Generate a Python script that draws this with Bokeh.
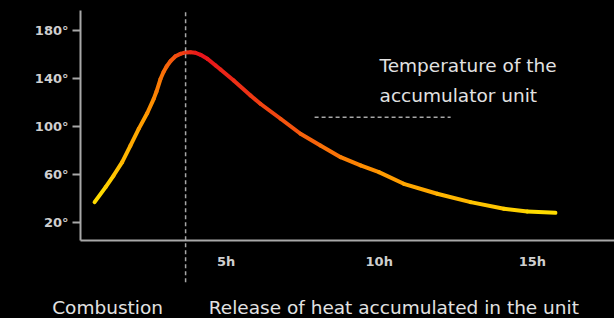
from bokeh.plotting import figure
from bokeh.models import FixedTicker, Label, ColumnDataSource
from bokeh.embed import file_html
from bokeh.resources import INLINE

# ---- data ----
hours = [0.71, 1.07, 1.33, 1.61, 1.88, 2.15, 2.43, 2.64, 2.73, 2.86, 2.96, 3.06,
         3.19, 3.35, 3.51, 3.68, 3.84, 4.00, 4.17, 4.39, 4.66, 4.82, 5.25, 5.80,
         6.12, 6.78, 7.43, 8.08, 8.74, 9.39, 9.99, 10.80, 11.89, 12.98, 14.07, 14.83, 15.75]
temps = [36.7, 49.2, 58.9, 70.0, 83.9, 97.8, 111.0, 122.8, 128.9, 139.3, 145.2, 149.8,
         154.3, 158.3, 160.3, 161.5, 161.7, 161.2, 159.5, 156.2, 150.6, 147.3, 138.1, 125.6,
         118.7, 106.2, 93.7, 83.9, 74.2, 67.3, 61.7, 52.0, 43.7, 36.7, 31.2, 28.9, 27.8]
y_ticks = [20, 60, 100, 140, 180]
y_tick_labels = ["20°", "60°", "100°", "140°", "180°"]
x_ticks = [5, 10, 15]
x_tick_labels = ["5h", "10h", "15h"]
phase_split = 3.68          # end of combustion (hours)
phase_names = ["Combustion", "Release of heat accumulated in the unit"]
series_label = ["Temperature of the", "accumulator unit"]

FONT = "DejaVu Sans"
AXIS_GRAY = "#a8a8a8"
TEXT_COL = "#e2e2e2"
TICK_COL = "#cfcfcf"

X0, X1 = 0.25, 17.678      # visible axis extents
Y0, Y1 = 4.75, 196.4

p = figure(width=614, height=318, x_range=(-2.361, 17.678), y_range=(-60.25, 204.75),
           output_backend="svg", toolbar_location=None,
           min_border=0, min_border_left=0, min_border_right=0,
           min_border_top=0, min_border_bottom=0)
p.background_fill_color = "black"
p.border_fill_color = "black"
p.outline_line_color = None
p.xgrid.visible = False
p.ygrid.visible = False

# axes, pinned inside the frame
p.xaxis.fixed_location = Y0
p.xaxis.bounds = (X0, X1)
p.yaxis.fixed_location = X0
p.yaxis.bounds = (Y0, Y1)
p.yaxis.ticker = FixedTicker(ticks=y_ticks)
p.yaxis.major_label_overrides = {t: l for t, l in zip(y_ticks, y_tick_labels)}
p.xaxis.ticker = FixedTicker(ticks=x_ticks)
p.xaxis.major_label_overrides = {t: l for t, l in zip(x_ticks, x_tick_labels)}
for ax in (p.xaxis, p.yaxis):
    ax.axis_line_color = AXIS_GRAY
    ax.axis_line_width = 2
    ax.major_tick_line_color = AXIS_GRAY
    ax.major_tick_line_width = 2
    ax.minor_tick_line_color = None
    ax.major_tick_in = 0
    ax.major_label_text_font = FONT
    ax.major_label_text_font_style = "bold"
    ax.major_label_text_font_size = "13px"
    ax.major_label_text_color = TICK_COL
p.yaxis.major_tick_out = 8
p.yaxis.major_label_standoff = 4
p.xaxis.major_tick_out = 0
p.xaxis.major_tick_line_color = None
p.xaxis.major_label_standoff = 13

# gradient-coloured curve (yellow -> orange -> red at the peak -> back to yellow)
stops = [(0.0, (255, 226, 0)), (0.5, (255, 150, 0)), (1.0, (232, 18, 28))]

def grad(t):
    t = max(0.0, min(1.0, t))
    for (t0, c0), (t1, c1) in zip(stops[:-1], stops[1:]):
        if t <= t1:
            f = (t - t0) / (t1 - t0)
            return "#%02x%02x%02x" % tuple(int(round(a + (b - a) * f)) for a, b in zip(c0, c1))
    return "#%02x%02x%02x" % stops[-1][1]

red_at = 4.2
h0, h1 = hours[0], hours[-1]
xs, ys, cols = [], [], []
for i in range(len(hours) - 1):
    mx = 0.5 * (hours[i] + hours[i + 1])
    t = (mx - h0) / (red_at - h0) if mx <= red_at else (h1 - mx) / (h1 - red_at)
    xs.append([hours[i], hours[i + 1]])
    ys.append([temps[i], temps[i + 1]])
    cols.append(grad(t))
p.multi_line(xs="xs", ys="ys", line_color="c", line_width=4, line_cap="round", line_join="round",
             source=ColumnDataSource(dict(xs=xs, ys=ys, c=cols)))

# vertical phase divider, extends below the axis
p.segment(x0=[phase_split], y0=[195.0], x1=[phase_split], y1=[-30.0],
          line_color=AXIS_GRAY, line_width=1.5, line_dash="4 3")

# horizontal dashed leader under the series label
p.segment(x0=[7.89], y0=[107.5], x1=[12.33], y1=[107.5], line_color=AXIS_GRAY,
          line_width=1.5, line_dash="4 3")

# texts
for txt, yy in zip(series_label, [150.6, 125.6]):
    p.add_layout(Label(x=10.01, y=yy, text=txt, text_font=FONT, text_font_size="18.5px",
                       text_color=TEXT_COL, text_baseline="alphabetic", text_align="left"))
for txt, xx in zip(phase_names, [-0.674, 4.437]):
    p.add_layout(Label(x=xx, y=-51.0, text=txt, text_font=FONT, text_font_size="18.5px",
                       text_color=TEXT_COL, text_baseline="alphabetic", text_align="left"))

html = file_html(p, INLINE)
html = html.replace("</head>", "<style>html,body{background:#000;}</style></head>", 1)
open("out.html", "w").write(html)
